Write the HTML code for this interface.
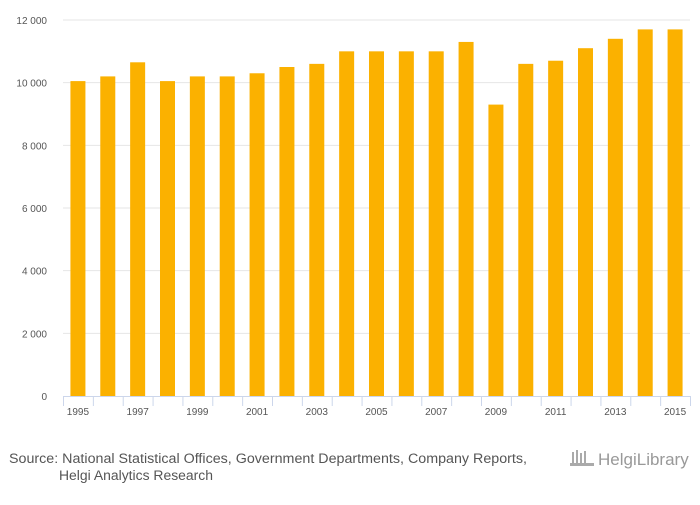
<!DOCTYPE html>
<html><head><meta charset="utf-8"><style>
body{margin:0;background:#fff;width:700px;height:500px;overflow:hidden;font-family:"Liberation Sans",sans-serif}
</style></head><body>
<svg id="c" width="700" height="500" xmlns="http://www.w3.org/2000/svg">
<rect width="700" height="500" fill="#ffffff"/>
<g id="grid"></g><g id="bars"></g><g id="axis"></g>
<text x="9" y="463" font-size="13.5" fill="#555" textLength="518" lengthAdjust="spacingAndGlyphs">Source: National Statistical Offices, Government Departments, Company Reports,</text>
<text x="59" y="480" font-size="13.5" fill="#555" textLength="154" lengthAdjust="spacingAndGlyphs">Helgi Analytics Research</text>
<text x="598" y="465" font-size="17" fill="#999">HelgiLibrary</text>
<g fill="#aaa"><rect x="572" y="452" width="2" height="12"/><rect x="576" y="450" width="2" height="14"/><rect x="580" y="453" width="2" height="11"/><rect x="584" y="451" width="2" height="13"/><rect x="570" y="463" width="24" height="3"/></g>
</svg>
<script>
const years=[1995,1996,1997,1998,1999,2000,2001,2002,2003,2004,2005,2006,2007,2008,2009,2010,2011,2012,2013,2014,2015];
const values=[10050,10200,10650,10050,10200,10200,10300,10500,10600,11000,11000,11000,11000,11300,9300,10600,10700,11100,11400,11700,11700];
const yTicks=[0,2000,4000,6000,8000,10000,12000];
const yTickLabels=["0","2 000","4 000","6 000","8 000","10 000","12 000"];
const NS="http://www.w3.org/2000/svg";
const x0=63,x1=690,y0=396,y1=20,yMax=12000;
const band=(x1-x0)/years.length;
const ys=v=>y0-(v/yMax)*(y0-y1);
const xs=i=>x0+band*i;
function mk(t,a,p){const e=document.createElementNS(NS,t);for(const k in a)e.setAttribute(k,a[k]);p.appendChild(e);return e;}
const grid=document.getElementById('grid'),bars=document.getElementById('bars'),axis=document.getElementById('axis');
yTicks.forEach((v,i)=>{
 if(v>0){const l=mk('line',{x1:x0,x2:x1,y1:ys(v),y2:ys(v),stroke:'#e6e6e6','stroke-width':1},grid);
 
 }
 const t=mk('text',{x:47,y:ys(v)+4,'font-size':10,fill:'#555','text-anchor':'end'},axis);
 t.textContent=yTickLabels[i];
 
 
});
values.forEach((v,i)=>{
 const r=mk('rect',{x:xs(i)+band/2-7.5,y:ys(v),width:15,height:y0-ys(v),fill:'#fbb100'},bars);
 
 
});
const al=mk('line',{x1:x0,x2:x1,y1:y0+0.5,y2:y0+0.5,stroke:'#ccd6eb'},axis);


for(let i=0;i<=years.length;i++){
 const tk=mk('line',{x1:xs(i)+0.5,x2:xs(i)+0.5,y1:y0,y2:y0+10,stroke:'#ccd6eb'},axis);
 
 
}
years.forEach((y,i)=>{
 if(i%2)return;
 const t=mk('text',{x:xs(i)+band/2,y:y0+19,'font-size':10,fill:'#555','text-anchor':'middle'},axis);
 t.textContent=y;
 
 
});
</script>
</body></html>
